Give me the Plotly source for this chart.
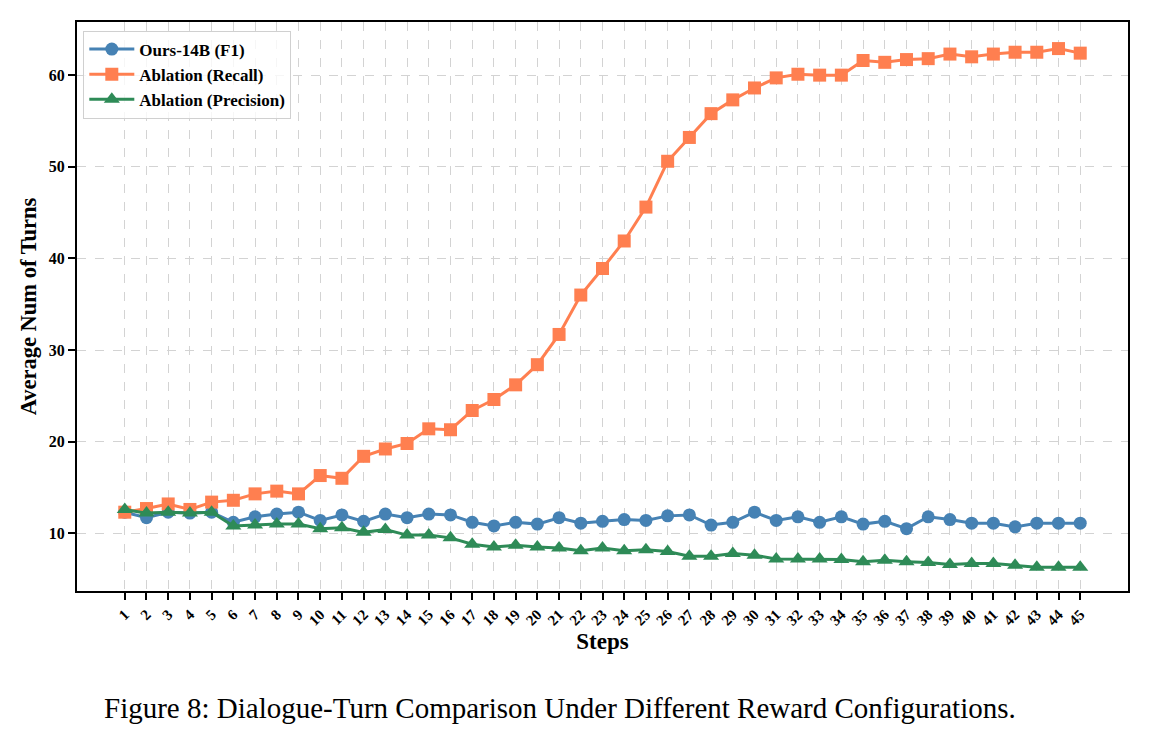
import plotly.graph_objects as go

steps = list(range(1, 46))
f1 = [12.3, 11.7, 12.3, 12.2, 12.3, 11.2, 11.8, 12.1, 12.3, 11.4,
      12.0, 11.3, 12.1, 11.7, 12.1, 12.0, 11.2, 10.8, 11.2, 11.0,
      11.7, 11.1, 11.3, 11.5, 11.4, 11.9, 12.0, 10.9, 11.2, 12.3,
      11.4, 11.8, 11.2, 11.8, 11.0, 11.3, 10.5, 11.8, 11.5, 11.1,
      11.1, 10.7, 11.1, 11.1, 11.1]
recall = [12.3, 12.7, 13.2, 12.6, 13.4, 13.6, 14.3, 14.6, 14.3, 16.3,
          16.0, 18.4, 19.2, 19.8, 21.4, 21.3, 23.4, 24.6, 26.2, 28.4,
          31.7, 36.0, 38.9, 41.9, 45.6, 50.6, 53.2, 55.8, 57.3, 58.6,
          59.7, 60.1, 60.0, 60.0, 61.6, 61.4, 61.7, 61.8, 62.3, 62.0,
          62.3, 62.5, 62.5, 62.9, 62.4]
precision = [12.6, 12.2, 12.3, 12.2, 12.3, 10.8, 10.9, 11.0, 11.0, 10.5,
             10.6, 10.1, 10.4, 9.8, 9.8, 9.5, 8.8, 8.5, 8.7, 8.5,
             8.4, 8.1, 8.4, 8.1, 8.2, 8.0, 7.5, 7.5, 7.8, 7.6,
             7.2, 7.2, 7.2, 7.15, 6.9, 7.05, 6.9, 6.8, 6.6, 6.7,
             6.7, 6.5, 6.3, 6.3, 6.3]
series_names = ["Ours-14B (F1)", "Ablation (Recall)", "Ablation (Precision)"]
y_ticks = [10, 20, 30, 40, 50, 60]

FONT = "Liberation Serif"

fig = go.Figure()
fig.add_trace(go.Scatter(x=steps, y=f1, mode="lines+markers", name=series_names[0],
                         line=dict(color="#4682B4", width=3),
                         marker=dict(symbol="circle", size=13, color="#4682B4")))
fig.add_trace(go.Scatter(x=steps, y=recall, mode="lines+markers", name=series_names[1],
                         line=dict(color="#FF7F50", width=3),
                         marker=dict(symbol="square", size=13, color="#FF7F50")))
fig.add_trace(go.Scatter(x=steps, y=precision, mode="lines+markers", name=series_names[2],
                         line=dict(color="#2E8B57", width=3),
                         marker=dict(symbol="triangle-up", size=14, color="#2E8B57")))

fig.update_layout(
    width=1149, height=739,
    margin=dict(l=77, r=21, t=22, b=148),
    paper_bgcolor="white", plot_bgcolor="white",
    font=dict(family=FONT, color="black"),
    showlegend=True,
    legend=dict(x=0.006, y=0.985, xanchor="left", yanchor="top",
                bgcolor="rgba(255,255,255,0.8)", bordercolor="#d0d0d0", borderwidth=1,
                font=dict(family=FONT, size=17, color="black", weight="bold"),
                itemwidth=45, tracegroupgap=2),
    xaxis=dict(
        range=[-1.2, 47.2], tickmode="array", tickvals=steps,
        ticktext=[str(s) for s in steps], tickangle=-45,
        tickfont=dict(family=FONT, size=15, color="black", weight="bold"),
        ticks="outside", ticklen=7, tickwidth=1.5, tickcolor="black",
        showline=True, linecolor="black", linewidth=2, mirror=True,
        showgrid=True, gridcolor="#d3d3d3", griddash="dash", gridwidth=1,
        zeroline=False,
        title=dict(text="Steps", font=dict(family=FONT, size=23, color="black", weight="bold"), standoff=4),
    ),
    yaxis=dict(
        range=[3.7, 65.8], tickmode="array", tickvals=y_ticks,
        tickfont=dict(family=FONT, size=16, color="black", weight="bold"),
        ticks="outside", ticklen=7, tickwidth=1.5, tickcolor="black",
        showline=True, linecolor="black", linewidth=2, mirror=True,
        showgrid=True, gridcolor="#d3d3d3", griddash="dash", gridwidth=1,
        zeroline=False,
        title=dict(text="Average Num of Turns", font=dict(family=FONT, size=22.5, color="black", weight="bold"), standoff=6),
    ),
)

fig.add_annotation(
    text="Figure 8: Dialogue-Turn Comparison Under Different Reward Configurations.",
    xref="paper", yref="paper", x=0.4596, y=-0.206, xanchor="center", yanchor="middle",
    showarrow=False, font=dict(family=FONT, size=29, color="black"),
)

fig.write_html("out.html")
